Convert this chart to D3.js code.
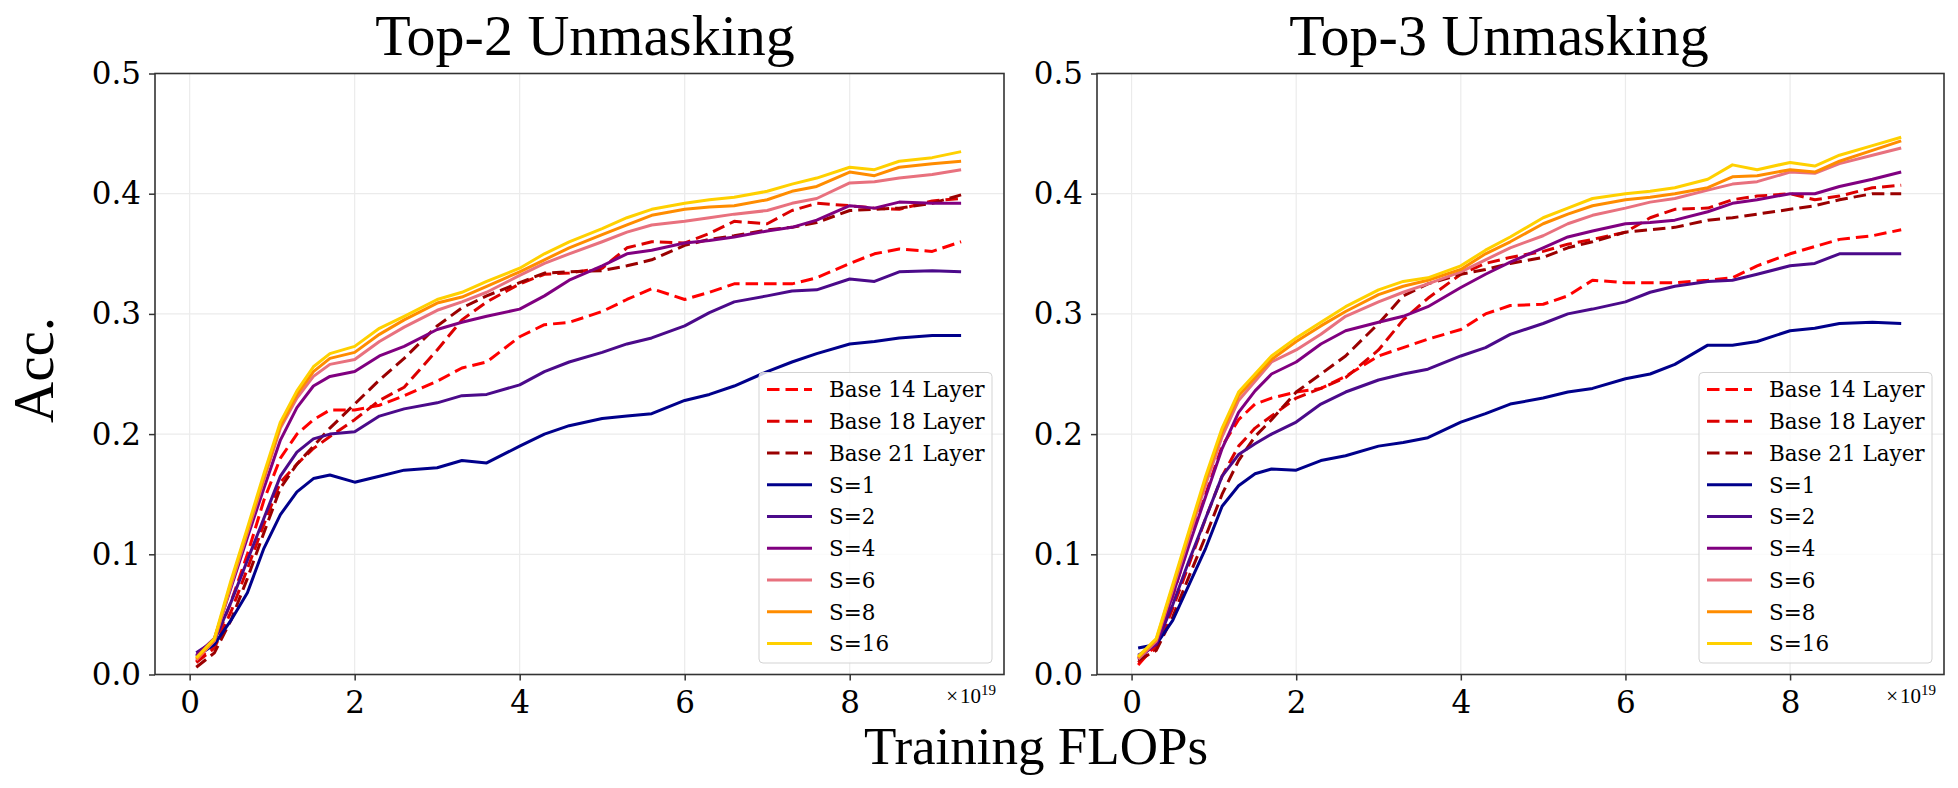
<!DOCTYPE html>
<html>
<head>
<meta charset="utf-8">
<script src="https://cdn.jsdelivr.net/npm/d3@7"></script>
<style>
  body { margin: 0; background: #fff; }
  svg { display: block; }
</style>
</head>
<body>
<svg id="chart" width="1958" height="788"></svg>
<script>
// training FLOPs (x 1e19), shared by every curve
const flops = [0.08, 0.3, 0.5, 0.7, 0.9, 1.1, 1.3, 1.5, 1.7, 2.0, 2.3, 2.6, 3.0, 3.3, 3.6, 4.0,
  4.3, 4.6, 5.0, 5.3, 5.6, 6.0, 6.3, 6.6, 7.0, 7.3, 7.6, 8.0, 8.3, 8.6, 9.0, 9.35];

const labels = ["Base 14 Layer", "Base 18 Layer", "Base 21 Layer", "S=1", "S=2", "S=4", "S=6", "S=8", "S=16"];
const xTicks = [0, 2, 4, 6, 8];
const yTicks = [0, 0.1, 0.2, 0.3, 0.4, 0.5];
const titles = ["Top-2 Unmasking", "Top-3 Unmasking"];

// Top-2 unmasking
const top2Base14 = [0.011, 0.025, 0.06, 0.1, 0.145, 0.18, 0.2, 0.212, 0.22, 0.22, 0.224, 0.232, 0.244, 0.255, 0.26, 0.281,
  0.291, 0.293, 0.302, 0.312, 0.321, 0.312, 0.318, 0.325, 0.325, 0.325, 0.33, 0.342, 0.35, 0.354, 0.352, 0.36];
const top2Base18 = [0.01, 0.022, 0.052, 0.088, 0.125, 0.16, 0.175, 0.188, 0.198, 0.212, 0.228, 0.239, 0.27, 0.295, 0.31, 0.325,
  0.333, 0.334, 0.338, 0.355, 0.36, 0.359, 0.367, 0.377, 0.375, 0.386, 0.392, 0.39, 0.388, 0.387, 0.394, 0.396];
const top2Base21 = [0.006, 0.018, 0.045, 0.08, 0.118, 0.155, 0.175, 0.19, 0.205, 0.225, 0.245, 0.263, 0.29, 0.305, 0.315, 0.326,
  0.334, 0.335, 0.336, 0.34, 0.345, 0.357, 0.362, 0.365, 0.37, 0.372, 0.376, 0.386, 0.387, 0.388, 0.392, 0.399];
const top2S1 = [0.015, 0.025, 0.045, 0.068, 0.105, 0.133, 0.152, 0.163, 0.166, 0.16, 0.165, 0.17, 0.172, 0.178, 0.176, 0.19,
  0.2, 0.207, 0.213, 0.215, 0.217, 0.228, 0.233, 0.24, 0.252, 0.26, 0.267, 0.275, 0.277, 0.28, 0.282, 0.282];
const top2S2 = [0.018, 0.028, 0.06, 0.095, 0.13, 0.165, 0.185, 0.196, 0.2, 0.202, 0.215, 0.221, 0.226, 0.232, 0.233, 0.241,
  0.252, 0.26, 0.268, 0.275, 0.28, 0.29, 0.301, 0.31, 0.315, 0.319, 0.32, 0.329, 0.327, 0.335, 0.336, 0.335];
const top2S4 = [0.016, 0.03, 0.072, 0.114, 0.155, 0.195, 0.222, 0.24, 0.248, 0.252, 0.265, 0.273, 0.287, 0.293, 0.298, 0.304,
  0.315, 0.328, 0.34, 0.35, 0.353, 0.359, 0.361, 0.364, 0.369, 0.372, 0.378, 0.39, 0.388, 0.393, 0.392, 0.392];
const top2S6 = [0.012, 0.028, 0.074, 0.118, 0.162, 0.205, 0.23, 0.248, 0.258, 0.262, 0.277, 0.289, 0.303, 0.31, 0.318, 0.332,
  0.342, 0.35, 0.36, 0.368, 0.374, 0.377, 0.38, 0.383, 0.386, 0.392, 0.396, 0.409, 0.41, 0.413, 0.416, 0.42];
const top2S8 = [0.013, 0.029, 0.076, 0.12, 0.164, 0.207, 0.233, 0.252, 0.263, 0.268, 0.283, 0.295, 0.309, 0.314, 0.323, 0.335,
  0.345, 0.355, 0.366, 0.374, 0.382, 0.387, 0.389, 0.39, 0.395, 0.402, 0.406, 0.418, 0.415, 0.422, 0.425, 0.427];
const top2S16 = [0.014, 0.03, 0.078, 0.122, 0.167, 0.21, 0.236, 0.256, 0.267, 0.273, 0.288, 0.298, 0.312, 0.318, 0.327, 0.338,
  0.35, 0.36, 0.371, 0.38, 0.387, 0.392, 0.395, 0.397, 0.402, 0.408, 0.413, 0.422, 0.42, 0.427, 0.43, 0.435];

// Top-3 unmasking
const top3Base14 = [0.008, 0.025, 0.065, 0.11, 0.15, 0.19, 0.212, 0.225, 0.23, 0.235, 0.238, 0.248, 0.265, 0.272, 0.279, 0.287,
  0.3, 0.307, 0.308, 0.315, 0.328, 0.326, 0.326, 0.326, 0.328, 0.33, 0.34, 0.35, 0.356, 0.362, 0.365, 0.37];
const top3Base18 = [0.01, 0.022, 0.055, 0.092, 0.13, 0.165, 0.19, 0.205, 0.215, 0.23, 0.238, 0.247, 0.27, 0.295, 0.313, 0.333,
  0.342, 0.347, 0.352, 0.358, 0.362, 0.368, 0.38, 0.387, 0.388, 0.395, 0.398, 0.4, 0.395, 0.398, 0.405, 0.407];
const top3Base21 = [0.012, 0.02, 0.048, 0.082, 0.115, 0.15, 0.178, 0.198, 0.212, 0.235, 0.25, 0.265, 0.292, 0.315, 0.325, 0.333,
  0.337, 0.342, 0.347, 0.355, 0.36, 0.368, 0.37, 0.372, 0.378, 0.38, 0.383, 0.387, 0.39, 0.395, 0.4, 0.4];
const top3S1 = [0.022, 0.025, 0.045, 0.075, 0.105, 0.14, 0.157, 0.167, 0.171, 0.17, 0.178, 0.182, 0.19, 0.193, 0.197, 0.21,
  0.217, 0.225, 0.23, 0.235, 0.238, 0.246, 0.25, 0.258, 0.274, 0.274, 0.277, 0.286, 0.288, 0.292, 0.293, 0.292];
const top3S2 = [0.016, 0.025, 0.058, 0.095, 0.13, 0.165, 0.183, 0.192, 0.2, 0.21, 0.225, 0.235, 0.245, 0.25, 0.254, 0.265,
  0.272, 0.283, 0.292, 0.3, 0.304, 0.31, 0.318, 0.323, 0.327, 0.328, 0.333, 0.34, 0.342, 0.35, 0.35, 0.35];
const top3S4 = [0.013, 0.026, 0.066, 0.108, 0.148, 0.188, 0.218, 0.236, 0.25, 0.26, 0.275, 0.286, 0.293, 0.298, 0.306, 0.322,
  0.333, 0.343, 0.355, 0.364, 0.369, 0.375, 0.376, 0.378, 0.385, 0.392, 0.395, 0.4, 0.4, 0.406, 0.412, 0.418];
const top3S6 = [0.013, 0.028, 0.071, 0.115, 0.158, 0.198, 0.228, 0.244, 0.26, 0.27, 0.283, 0.298, 0.31, 0.318, 0.325, 0.335,
  0.345, 0.355, 0.365, 0.375, 0.382, 0.388, 0.393, 0.396, 0.403, 0.408, 0.41, 0.418, 0.417, 0.425, 0.432, 0.438];
const top3S8 = [0.014, 0.029, 0.073, 0.118, 0.162, 0.202, 0.232, 0.247, 0.262, 0.277, 0.29, 0.302, 0.316, 0.323, 0.328, 0.337,
  0.35, 0.36, 0.375, 0.383, 0.39, 0.395, 0.397, 0.4, 0.405, 0.414, 0.415, 0.42, 0.418, 0.427, 0.436, 0.444];
const top3S16 = [0.015, 0.03, 0.075, 0.12, 0.165, 0.205, 0.235, 0.25, 0.265, 0.28, 0.293, 0.306, 0.32, 0.327, 0.33, 0.34,
  0.353, 0.364, 0.38, 0.388, 0.396, 0.4, 0.402, 0.405, 0.412, 0.424, 0.42, 0.426, 0.423, 0.432, 0.44, 0.447];

const colors = ["#ff0000", "#dc0000", "#9a0000", "#00008b", "#4b0a8a", "#800080", "#e8717e", "#ff8c00", "#ffd000"];
const dashed = [true, true, true, false, false, false, false, false, false];

const panelData = [
  [top2Base14, top2Base18, top2Base21, top2S1, top2S2, top2S4, top2S6, top2S8, top2S16],
  [top3Base14, top3Base18, top3Base21, top3S1, top3S2, top3S4, top3S6, top3S8, top3S16]
];

const panels = [
  {left: 155, right: 1004, titleX: 585},
  {left: 1097, right: 1944, titleX: 1499}
];
const plotTop = 73.5, plotBottom = 674.5;
const serif = "'DejaVu Serif', serif";
const times = "'Liberation Serif', 'Times New Roman', serif";
const dash = "12.5,6";

const svg = d3.select("#chart");

panels.forEach((p, pi) => {
  const x = d3.scaleLinear().domain([-0.42, 9.87]).range([p.left, p.right]);
  const y = d3.scaleLinear().domain([0, 0.5]).range([plotBottom, plotTop]);
  const g = svg.append("g");

  // grid
  g.append("g").selectAll("line").data(xTicks).join("line")
    .attr("x1", d => x(d)).attr("x2", d => x(d))
    .attr("y1", plotTop).attr("y2", plotBottom)
    .attr("stroke", "#ebebeb").attr("stroke-width", 1.2);
  g.append("g").selectAll("line").data(yTicks).join("line")
    .attr("x1", p.left).attr("x2", p.right)
    .attr("y1", d => y(d)).attr("y2", d => y(d))
    .attr("stroke", "#ebebeb").attr("stroke-width", 1.2);

  // curves
  const line = d3.line().x((d, i) => x(flops[i])).y(d => y(d));
  g.append("g").selectAll("path").data(panelData[pi]).join("path")
    .attr("d", line)
    .attr("fill", "none")
    .attr("stroke", (d, i) => colors[i])
    .attr("stroke-width", 3)
    .attr("stroke-linejoin", "round")
    .attr("stroke-dasharray", (d, i) => dashed[i] ? dash : null);

  // axes
  const xAxis = g.append("g")
    .attr("transform", `translate(0,${plotBottom})`)
    .call(d3.axisBottom(x).tickValues(xTicks).tickFormat(d3.format("d")).tickSize(6).tickPadding(10));
  const yAxis = g.append("g")
    .attr("transform", `translate(${p.left},0)`)
    .call(d3.axisLeft(y).tickValues(yTicks).tickFormat(d3.format(".1f")).tickSize(6).tickPadding(8));
  [xAxis, yAxis].forEach(a => {
    a.select(".domain").remove();
    a.selectAll(".tick line").attr("stroke", "#333").attr("stroke-width", 1.5);
    a.selectAll(".tick text").attr("font-family", serif).attr("font-size", 31).attr("fill", "#000");
  });

  // frame
  g.append("rect")
    .attr("x", p.left).attr("y", plotTop)
    .attr("width", p.right - p.left).attr("height", plotBottom - plotTop)
    .attr("fill", "none").attr("stroke", "#333").attr("stroke-width", 1.6);

  // title
  g.append("text")
    .attr("x", p.titleX).attr("y", 55)
    .attr("text-anchor", "middle")
    .attr("font-family", times).attr("font-size", 58)
    .text(titles[pi]);

  // offset text x10^19
  const off = g.append("text")
    .attr("x", p.right - 8).attr("y", 703)
    .attr("text-anchor", "end")
    .attr("font-family", times).attr("font-size", 21);
  off.append("tspan").text("×");
  off.append("tspan").attr("dx", 2).text("10");
  off.append("tspan").attr("font-size", 15).attr("dy", -8).text("19");

  // legend
  const lx = p.right - 245, ly = 372.5, rowH = 31.75;
  const leg = g.append("g");
  leg.append("rect")
    .attr("x", lx).attr("y", ly)
    .attr("width", 233).attr("height", 290.5)
    .attr("rx", 4)
    .attr("fill", "#fff").attr("fill-opacity", 0.8)
    .attr("stroke", "#d3d3d3").attr("stroke-width", 1);
  const rows = leg.selectAll("g.row").data(labels).join("g")
    .attr("class", "row")
    .attr("transform", (d, i) => `translate(0,${ly + 17 + i * rowH})`);
  rows.append("line")
    .attr("x1", lx + 8).attr("x2", lx + 53)
    .attr("stroke", (d, i) => colors[i])
    .attr("stroke-width", 3)
    .attr("stroke-dasharray", (d, i) => dashed[i] ? dash : null);
  rows.append("text")
    .attr("x", lx + 70).attr("y", 0)
    .attr("dy", "0.36em")
    .attr("font-family", serif).attr("font-size", 21.5)
    .text(d => d);
});

// shared axis labels
svg.append("text")
  .attr("x", 1036).attr("y", 764)
  .attr("text-anchor", "middle")
  .attr("font-family", times).attr("font-size", 53)
  .text("Training FLOPs");

svg.append("text")
  .attr("transform", "translate(53,370) rotate(-90)")
  .attr("text-anchor", "middle")
  .attr("font-family", times).attr("font-size", 57)
  .text("Acc.");
</script>
</body>
</html>
